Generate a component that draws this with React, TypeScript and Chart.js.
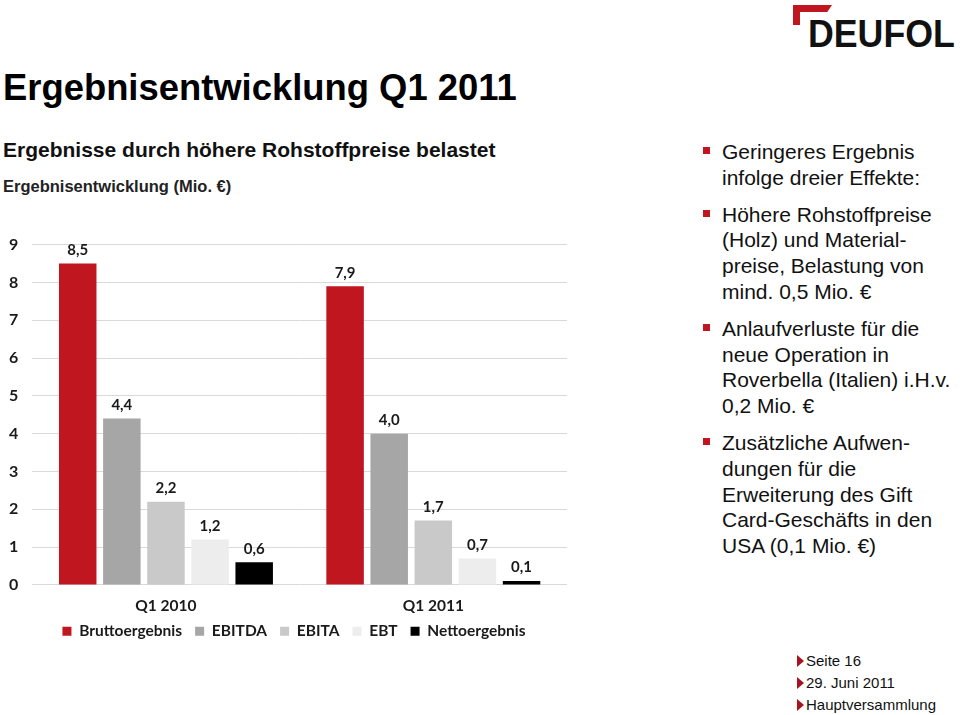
import React, { useEffect, useRef } from "react";
import { Chart, registerables } from "chart.js";

Chart.register(...registerables);

const categories = ["Q1 2010", "Q1 2011"];
const seriesNames = ["Bruttoergebnis", "EBITDA", "EBITA", "EBT", "Nettoergebnis"];
const bruttoergebnis = [8.5, 7.9];
const ebitda = [4.4, 4.0];
const ebita = [2.2, 1.7];
const ebt = [1.2, 0.7];
const nettoergebnis = [0.6, 0.1];
const seriesColors = ["#C0161F", "#A6A6A6", "#C9C9C9", "#EDEDED", "#000000"];
const yTicks = [0, 1, 2, 3, 4, 5, 6, 7, 8, 9];

const bullets = [
  ["Geringeres Ergebnis", "infolge dreier Effekte:"],
  ["Höhere Rohstoffpreise", "(Holz) und Material-", "preise, Belastung von", "mind. 0,5 Mio. €"],
  ["Anlaufverluste für die", "neue Operation in", "Roverbella (Italien) i.H.v.", "0,2 Mio. €"],
  ["Zusätzliche Aufwen-", "dungen für die", "Erweiterung des Gift", "Card-Geschäfts in den", "USA (0,1 Mio. €)"],
];
const footer = ["Seite 16", "29. Juni 2011", "Hauptversammlung"];

const chartFont = "Lato, 'Open Sans', sans-serif";
const LEGEND_SHIFT_Y = 17;
const LEGEND_SHIFT_X = 13;

const valueLabels = {
  id: "valueLabels",
  afterLayout(chart: any) {
    if (chart.legend) {
      chart.legend.top -= LEGEND_SHIFT_Y;
      chart.legend.bottom -= LEGEND_SHIFT_Y;
      chart.legend.left += LEGEND_SHIFT_X;
      chart.legend.right += LEGEND_SHIFT_X;
    }
  },
  afterDatasetsDraw(chart: any) {
    const ctx = chart.ctx;
    ctx.save();
    ctx.font = `bold 15px ${chartFont}`;
    ctx.fillStyle = "#1a1a1a";
    ctx.textAlign = "center";
    ctx.textBaseline = "bottom";
    chart.data.datasets.forEach((ds: any, i: number) => {
      const meta = chart.getDatasetMeta(i);
      meta.data.forEach((bar: any, j: number) => {
        const v = ds.data[j] as number;
        ctx.fillText(v.toFixed(1).replace(".", ","), bar.x, bar.y - 6);
      });
    });
    ctx.restore();
  },
};

function BarChart() {
  const ref = useRef<HTMLCanvasElement | null>(null);
  useEffect(() => {
    if (!ref.current) return;
    const values = [bruttoergebnis, ebitda, ebita, ebt, nettoergebnis];
    const chart = new Chart(ref.current, {
      type: "bar",
      data: {
        labels: categories,
        datasets: seriesNames.map((name, i) => ({
          label: name,
          data: values[i],
          backgroundColor: seriesColors[i],
          borderWidth: 0,
          categoryPercentage: 0.825,
          barPercentage: 0.85,
        })),
      },
      options: {
        responsive: false,
        animation: false,
        layout: { padding: { left: 6, right: 8, top: 0, bottom: 0 } },
        plugins: {
          legend: {
            position: "bottom",
            labels: {
              boxWidth: 9,
              boxHeight: 9,
              padding: 13,
              color: "#1a1a1a",
              font: { family: chartFont, size: 15.5, weight: "bold" },
            },
          },
          tooltip: { enabled: false },
        },
        scales: {
          x: {
            grid: { display: false, drawTicks: false },
            border: { display: false },
            ticks: {
              color: "#1a1a1a",
              padding: 12,
              font: { family: chartFont, size: 15.5, weight: "bold" },
            },
          },
          y: {
            min: 0,
            max: 9,
            afterBuildTicks: (axis: any) => {
              axis.ticks = yTicks.map((v) => ({ value: v }));
            },
            grid: { color: "#D9D9D9", lineWidth: 1, drawTicks: false },
            border: { display: false },
            ticks: {
              color: "#1a1a1a",
              padding: 14,
              font: { family: chartFont, size: 16, weight: "bold" },
            },
          },
        },
      },
      plugins: [valueLabels],
    });
    return () => chart.destroy();
  }, []);
  return (
    <canvas
      ref={ref}
      width={586}
      height={445}
      style={{ position: "absolute", left: -11, top: 221, width: 586, height: 445 }}
    />
  );
}

export default function App() {
  const arial = "'Liberation Sans', Arial, sans-serif";
  let y = 139;
  const lineH = 25.8;
  const bulletEls: any[] = [];
  bullets.forEach((lines, bi) => {
    bulletEls.push(
      <div key={"sq" + bi} style={{ position: "absolute", left: 703, top: y + 8, width: 7, height: 7, background: "#C0161F" }} />
    );
    lines.forEach((ln, li) => {
      bulletEls.push(
        <div key={bi + "-" + li} style={{ position: "absolute", left: 722, top: y + li * lineH, fontSize: 21, lineHeight: "26px", whiteSpace: "nowrap", color: "#111" }}>
          {ln}
        </div>
      );
    });
    y += lines.length * lineH + 11;
  });
  return (
    <div style={{ position: "absolute", left: 0, top: 0, width: 960, height: 715, background: "#fff", fontFamily: arial, overflow: "hidden" }}>
      {/* logo */}
      <div style={{ position: "absolute", left: 793, top: 5, width: 39, height: 7, background: "#C0161F", clipPath: "polygon(0 0, 100% 0, 88% 100%, 0 100%)" }} />
      <div style={{ position: "absolute", left: 793, top: 5, width: 7, height: 20, background: "#C0161F" }} />
      <div style={{ position: "absolute", left: 808, top: 13, fontSize: 38, fontWeight: "bold", lineHeight: "42px", color: "#111", transform: "scaleX(0.94)", transformOrigin: "left", whiteSpace: "nowrap" }}>
        DEUFOL
      </div>
      <div style={{ position: "absolute", left: 3, top: 67, fontSize: 36.4, fontWeight: "bold", lineHeight: "42px", color: "#000", whiteSpace: "nowrap" }}>
        Ergebnisentwicklung Q1 2011
      </div>
      <div style={{ position: "absolute", left: 3, top: 137, fontSize: 21, fontWeight: "bold", lineHeight: "26px", color: "#111", whiteSpace: "nowrap" }}>
        Ergebnisse durch höhere Rohstoffpreise belastet
      </div>
      <div style={{ position: "absolute", left: 3, top: 176, fontSize: 16.5, fontWeight: "bold", lineHeight: "20px", color: "#222", whiteSpace: "nowrap" }}>
        Ergebnisentwicklung (Mio. €)
      </div>
      <BarChart />
      {bulletEls}
      {footer.map((t, i) => (
        <div key={t} style={{ position: "absolute", left: 797, top: 652 + i * 22, height: 18, whiteSpace: "nowrap" }}>
          <div style={{ position: "absolute", left: 0, top: 3, width: 0, height: 0, borderTop: "6px solid transparent", borderBottom: "6px solid transparent", borderLeft: "7px solid #A8141E" }} />
          <div style={{ position: "absolute", left: 9, top: 0, fontSize: 15, lineHeight: "18px", color: "#111" }}>{t}</div>
        </div>
      ))}
    </div>
  );
}
